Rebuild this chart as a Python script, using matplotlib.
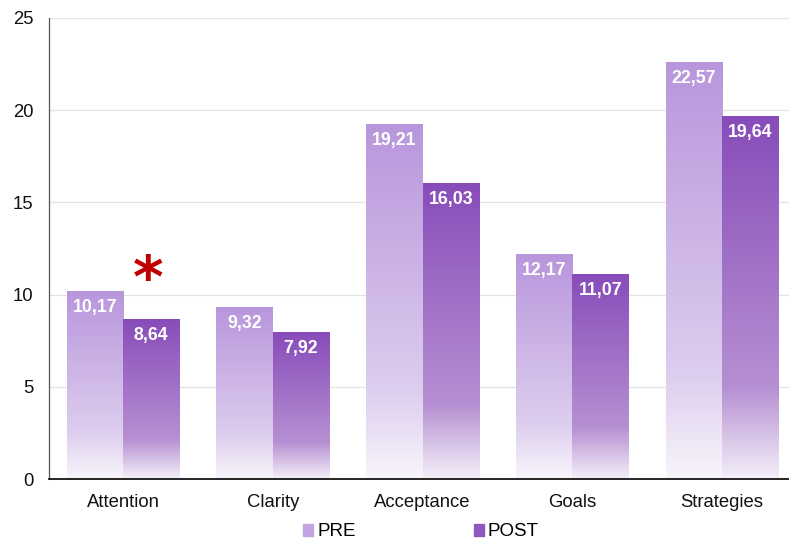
import numpy as np
import matplotlib.pyplot as plt
from matplotlib.colors import LinearSegmentedColormap
from matplotlib.patches import Patch

plt.rcParams['font.family'] = ['Liberation Sans', 'DejaVu Sans']

categories = ['Attention', 'Clarity', 'Acceptance', 'Goals', 'Strategies']
pre = [10.17, 9.32, 19.21, 12.17, 22.57]
post = [8.64, 7.92, 16.03, 11.07, 19.64]
labels_pre = ['10,17', '9,32', '19,21', '12,17', '22,57']
labels_post = ['8,64', '7,92', '16,03', '11,07', '19,64']

# gradient stops from the bottom (0) to the top (1) of each bar
pre_cmap = LinearSegmentedColormap.from_list('pre', [
    (0.0, '#f8f5fb'), (0.25, '#ddcdee'), (1.0, '#b896dc')])
post_cmap = LinearSegmentedColormap.from_list('post', [
    (0.0, '#f4eff8'), (0.25, '#b690d2'), (1.0, '#884cba')])

fig = plt.figure(figsize=(7.89, 5.43), dpi=100)
ax = fig.add_axes([49 / 789, 1 - 479 / 543, 1 - 49 / 789, (479 - 18) / 543])

x = np.arange(len(categories))
w = 0.377
grad = np.linspace(0, 1, 256).reshape(-1, 1)


def gradient_bar(xc, h, cmap):
    ax.imshow(grad, cmap=cmap, origin='lower', aspect='auto',
              extent=(xc - w / 2, xc + w / 2, 0, h), zorder=2)


for i in range(len(categories)):
    gradient_bar(x[i] - w / 2, pre[i], pre_cmap)
    gradient_bar(x[i] + w / 2, post[i], post_cmap)
    ax.text(x[i] - w / 2, pre[i] - 0.4, labels_pre[i], ha='center', va='top',
            color='white', fontsize=12.8, fontweight='bold', zorder=3)
    ax.text(x[i] + w / 2, post[i] - 0.4, labels_post[i], ha='center', va='top',
            color='white', fontsize=12.8, fontweight='bold', zorder=3)

# significance mark over Attention
ax.text(x[0] + w / 2 - 0.02, 10.75, '*', ha='center', va='center', color='#c00000',
        fontsize=42, fontweight='bold', family='DejaVu Sans', zorder=3)

ax.set_xlim(-0.494, 4.447)
ax.set_ylim(0, 25)
ax.set_yticks(range(0, 26, 5))
ax.set_xticks(x)
ax.set_xticklabels(categories)
ax.tick_params(length=0, labelsize=13.3, colors='#111111')
ax.tick_params(axis='y', pad=11)
ax.tick_params(axis='x', pad=11)
ax.grid(axis='y', color='#e3e3e3', linewidth=0.9, zorder=0)
ax.set_axisbelow(True)
for s in ['top', 'right']:
    ax.spines[s].set_visible(False)
ax.spines['left'].set_color('#555555')
ax.spines['left'].set_linewidth(0.9)
ax.spines['bottom'].set_color('black')
ax.spines['bottom'].set_linewidth(1.2)

handles = [Patch(color='#c3a4e2', label='PRE'), Patch(color='#8f58c0', label='POST')]
fig.legend(handles=handles, loc='center', bbox_to_anchor=(421 / 789, 1 - 532 / 543),
           ncol=2, frameon=False, fontsize=13.5, handlelength=0.55, handleheight=0.55,
           handletextpad=0.2, columnspacing=6.3)

fig.savefig('out.png', dpi=100)
